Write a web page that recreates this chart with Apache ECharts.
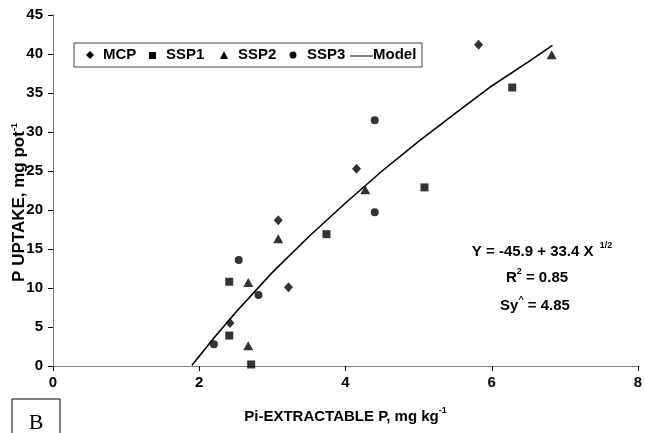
<!DOCTYPE html>
<html><head><meta charset="utf-8">
<script src="https://cdn.jsdelivr.net/npm/echarts@6/dist/echarts.min.js"></script>
<style>html,body{margin:0;padding:0;background:#fff}#c{width:645px;height:433px}</style>
</head><body><div id="c"></div>
<script>
const xTicks = [0, 2, 4, 6, 8];
const yTicks = [0, 5, 10, 15, 20, 25, 30, 35, 40, 45];
const mcp  = [[5.82, 41.2], [4.15, 25.3], [3.08, 18.7], [3.22, 10.1], [2.42, 5.5]];
const ssp1 = [[6.28, 35.7], [5.08, 22.9], [3.74, 16.9], [2.41, 10.8], [2.41, 3.9], [2.71, 0.2]];
const ssp2 = [[6.82, 39.9], [4.27, 22.6], [3.08, 16.3], [2.67, 10.7], [2.67, 2.6]];
const ssp3 = [[4.40, 31.5], [4.40, 19.7], [2.54, 13.6], [2.81, 9.1], [2.20, 2.8]];
const modelX = [1.9, 2.2, 2.5, 3.0, 3.5, 4.0, 4.5, 5.0, 5.5, 6.0, 6.5, 6.83];
const modelY = [0.1, 3.6, 6.9, 12.0, 16.6, 20.9, 25.0, 28.8, 32.4, 35.9, 39.0, 41.1];

const FONT = '"Liberation Sans", Arial, sans-serif';
const chart = echarts.init(document.getElementById('c'), null, {renderer: 'canvas'});
const sup = {fontFamily: FONT, fontWeight: 'bold', fontSize: 9, verticalAlign: 'top', lineHeight: 18, color: '#000'};
const legText = {fontFamily: FONT, fontWeight: 'bold', fontSize: 15, fill: '#000', verticalAlign: 'middle'};
const eqA = {fontFamily: FONT, fontWeight: 'bold', fontSize: 15, fill: '#000', lineHeight: 18, verticalAlign: 'bottom'};
const eqB = {fontFamily: FONT, fontWeight: 'bold', fontSize: 9, fill: '#000', lineHeight: 18, verticalAlign: 'top'};
chart.setOption({
  animation: false,
  backgroundColor: '#fff',
  grid: {left: 53, right: 7, top: 15, bottom: 67, containLabel: false, outerBoundsMode: 'none'},
  legend: {show: false},
  xAxis: [{
    type: 'value', min: xTicks[0], max: xTicks[xTicks.length-1], interval: 2,
    axisLine: {onZero: false, lineStyle: {color: '#000', width: 1}},
    axisTick: {show: true, length: 5, lineStyle: {color: '#000'}},
    splitLine: {show: false},
    axisLabel: {color: '#000', fontFamily: FONT, fontWeight: 'bold', fontSize: 15, margin: 9},
    name: '{n|Pi-EXTRACTABLE P, mg kg}{s|-1}', nameLocation: 'middle', nameGap: 40,
    nameTextStyle: {rich: {n: {fontFamily: FONT, fontWeight: 'bold', fontSize: 15, color: '#000', lineHeight: 18, verticalAlign: 'bottom'}, s: sup}}
  }, {
    type: 'value', position: 'top', min: 0, max: 8,
    axisLine: {show: true, lineStyle: {color: '#999', width: 1, type: 'dotted'}},
    axisTick: {show: false}, axisLabel: {show: false}, splitLine: {show: false}
  }],
  yAxis: [{
    type: 'value', min: yTicks[0], max: yTicks[yTicks.length-1], interval: 5,
    axisLine: {show: true, onZero: false, lineStyle: {color: '#000', width: 1}},
    axisTick: {show: true, length: 5, lineStyle: {color: '#000'}},
    splitLine: {show: false},
    axisLabel: {color: '#000', fontFamily: FONT, fontWeight: 'bold', fontSize: 15, margin: 10},
    name: '{n|P UPTAKE, mg pot}{s|-1}', nameLocation: 'middle', nameGap: 25, nameMoveOverlap: false,
    nameTextStyle: {padding: [0, 24, 0, 0], rich: {n: {fontFamily: FONT, fontWeight: 'bold', fontSize: 17, color: '#000', lineHeight: 18, verticalAlign: 'bottom'}, s: sup}}
  }, {
    type: 'value', position: 'right', min: 0, max: 45,
    axisLine: {show: true, lineStyle: {color: '#999', width: 1, type: 'dotted'}},
    axisTick: {show: false}, axisLabel: {show: false}, splitLine: {show: false}
  }],
  series: [
    {name: 'Model', type: 'line', data: modelX.map((x, i) => [x, modelY[i]]), showSymbol: false, symbol: 'none',
     lineStyle: {color: '#000', width: 1.6}, z: 2},
    {name: 'MCP', type: 'scatter', data: mcp, symbol: 'diamond', symbolSize: [9, 10], itemStyle: {color: '#000'}, z: 3},
    {name: 'SSP1', type: 'scatter', data: ssp1, symbol: 'rect', symbolSize: 8, itemStyle: {color: '#000'}, z: 3},
    {name: 'SSP2', type: 'scatter', data: ssp2, symbol: 'triangle', symbolSize: [10, 9], itemStyle: {color: '#000'}, z: 3},
    {name: 'SSP3', type: 'scatter', data: ssp3, symbol: 'circle', symbolSize: 8, itemStyle: {color: '#000'}, z: 3}
  ],
  graphic: [
    {type: 'rect', shape: {x: 74, y: 43, width: 348, height: 24}, style: {fill: '#fff', stroke: '#444', lineWidth: 1}, z: 10},
    {type: 'polygon', shape: {points: [[90,51],[94,55],[90,59],[86,55]]}, style: {fill: '#000'}, z: 11},
    {type: 'text', x: 103, y: 55, style: Object.assign({text: 'MCP'}, legText), z: 11},
    {type: 'rect', shape: {x: 149, y: 52, width: 7, height: 7}, style: {fill: '#000'}, z: 11},
    {type: 'text', x: 166, y: 55, style: Object.assign({text: 'SSP1'}, legText), z: 11},
    {type: 'polygon', shape: {points: [[224,51],[228,59],[220,59]]}, style: {fill: '#000'}, z: 11},
    {type: 'text', x: 238, y: 55, style: Object.assign({text: 'SSP2'}, legText), z: 11},
    {type: 'circle', shape: {cx: 293, cy: 55, r: 3.5}, style: {fill: '#000'}, z: 11},
    {type: 'text', x: 307, y: 55, style: Object.assign({text: 'SSP3'}, legText), z: 11},
    {type: 'line', shape: {x1: 350, y1: 56, x2: 373, y2: 56}, style: {stroke: '#000', lineWidth: 1}, z: 11},
    {type: 'text', x: 373, y: 55, style: Object.assign({text: 'Model'}, legText), z: 11},
    {type: 'text', x: 542, y: 250, style: {text: '{a|Y = -45.9 + 33.4 X }{b|1/2}', align: 'center', verticalAlign: 'middle', rich: {a: eqA, b: Object.assign({}, eqB, {padding: [0,0,0,2]})}}, z: 11},
    {type: 'text', x: 537, y: 276, style: {text: '{a|R}{b|2}{a| = 0.85}', align: 'center', verticalAlign: 'middle', rich: {a: eqA, b: eqB}}, z: 11},
    {type: 'text', x: 535, y: 304, style: {text: '{a|Sy}{b|^}{a| = 4.85}', align: 'center', verticalAlign: 'middle', rich: {a: eqA, b: eqB}}, z: 11},
    {type: 'rect', shape: {x: 12, y: 399, width: 48, height: 40}, style: {fill: 'none', stroke: '#000', lineWidth: 1}, z: 11},
    {type: 'text', x: 36, y: 423, style: {text: 'B', fontFamily: '"Liberation Serif", "Times New Roman", serif', fontSize: 22, fill: '#000', align: 'center', verticalAlign: 'middle'}, z: 11}
  ]
});
</script></body></html>
